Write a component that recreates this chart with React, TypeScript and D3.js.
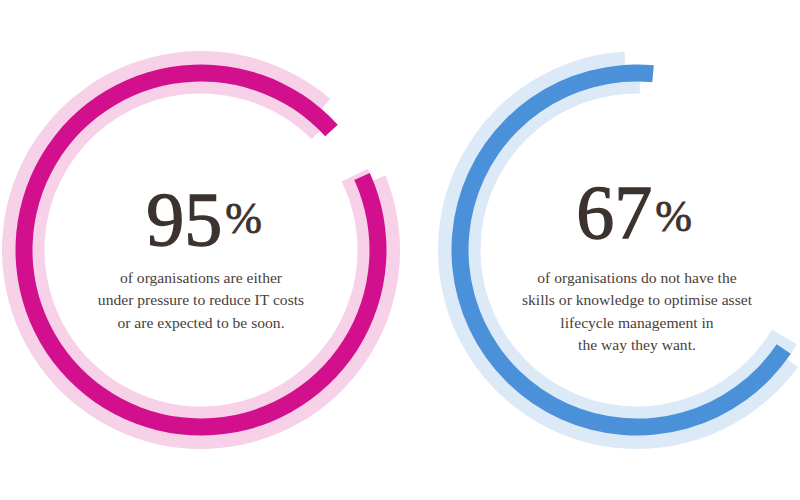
import React from "react";
import * as d3 from "d3";

// ---- data ----
const percentages = [95, 67];
const captions = [
  ["of organisations are either", "under pressure to reduce IT costs", "or are expected to be soon."],
  [
    "of organisations do not have the",
    "skills or knowledge to optimise asset",
    "lifecycle management in",
    "the way they want.",
  ],
];
const darkColors = ["#d20f8c", "#4a91d9"];
const lightColors = ["#f6d1e8", "#dce9f7"];
// angle (degrees, clockwise from 12 o'clock) where the value arc begins
const startAngles = [65.5, 124];
// track arcs offsets (degrees) relative to value arc ends
const innerTrackStartOffset = [-1.5, -3.5];
const innerTrackEndOffset = [-2.5, -4.2];
const outerTrackStartOffset = [2.5, 2];
const outerTrackEndOffset = [-7, -8.8];

const W = 800;
const H = 500;
const centersX = [201, 637];
const centerY = 250;
const numberBaselines = [245, 238];
const numberDx = [0, -6];
const percentDy = [-12, -7];
const captionFirstBaseline = 283;
const lineStep = 22.4;

const rad = (d: number) => (d * Math.PI) / 180;

export default function App() {
  const angleScale = d3.scaleLinear().domain([0, 100]).range([0, 360]);
  const arcGen = d3.arc<any>();

  return (
    <svg
      width={W}
      height={H}
      style={{ position: "absolute", left: 0, top: 0, background: "#fff" }}
    >
      {percentages.map((p, i) => {
        const s = startAngles[i];
        const e = s + angleScale(p);
        const innerTrack = arcGen({
          innerRadius: 156.5,
          outerRadius: 185.5,
          startAngle: rad(s + innerTrackStartOffset[i]),
          endAngle: rad(e + innerTrackEndOffset[i]),
        });
        const outerTrack = arcGen({
          innerRadius: 185,
          outerRadius: 199,
          startAngle: rad(s + outerTrackStartOffset[i]),
          endAngle: rad(e + outerTrackEndOffset[i]),
        });
        const value = arcGen({
          innerRadius: 168.5,
          outerRadius: 185.5,
          startAngle: rad(s),
          endAngle: rad(e),
        });
        const cx = centersX[i];
        return (
          <g key={i}>
            <g transform={`translate(${cx},${centerY})`}>
              <path d={innerTrack as string} fill={lightColors[i]} />
              <path d={outerTrack as string} fill={lightColors[i]} />
              <path d={value as string} fill={darkColors[i]} />
            </g>
            <text
              x={cx + 3 + numberDx[i]}
              y={numberBaselines[i]}
              textAnchor="middle"
              fill="#3d332e"
              stroke="#3d332e"
              strokeWidth={1.3}
              fontFamily="'Liberation Serif', serif"
            >
              <tspan fontSize={76}>{p}</tspan>
              <tspan fontSize={44} dx={3} dy={percentDy[i]} strokeWidth={0.8}>%</tspan>
            </text>
            {captions[i].map((line, j) => (
              <text
                key={j}
                x={cx}
                y={captionFirstBaseline + j * lineStep}
                textAnchor="middle"
                fill="#4a403b"
                fontFamily="'Liberation Serif', serif"
                fontSize={15.6}
              >
                {line}
              </text>
            ))}
          </g>
        );
      })}
    </svg>
  );
}
